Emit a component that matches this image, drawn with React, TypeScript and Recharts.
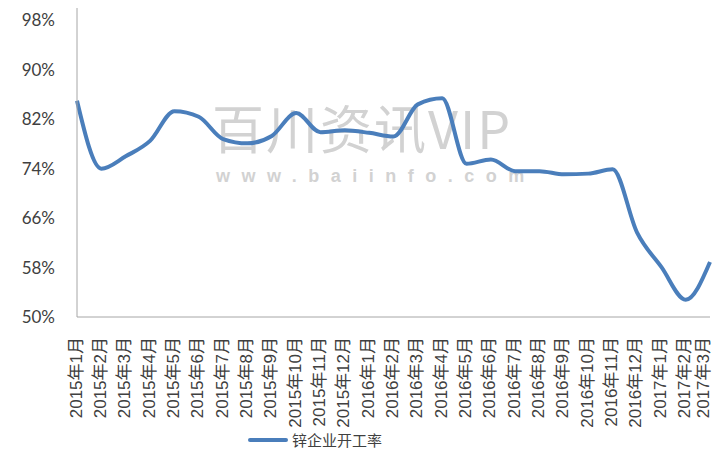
import { LineChart, Line, XAxis, YAxis, Legend } from 'recharts';

const months = [
  '2015年1月', '2015年2月', '2015年3月', '2015年4月', '2015年5月', '2015年6月',
  '2015年7月', '2015年8月', '2015年9月', '2015年10月', '2015年11月', '2015年12月',
  '2016年1月', '2016年2月', '2016年3月', '2016年4月', '2016年5月', '2016年6月',
  '2016年7月', '2016年8月', '2016年9月', '2016年10月', '2016年11月', '2016年12月',
  '2017年1月', '2017年2月', '2017年3月',
];
const rate = [
  85.0, 74.0, 76.0, 78.5, 83.3, 82.4, 78.8, 78.1, 79.3, 83.0, 79.9, 80.2,
  79.8, 79.2, 84.4, 85.4, 74.8, 75.5, 73.6, 73.6, 73.1, 73.2, 73.9, 63.7,
  58.1, 52.8, 58.9,
];
const yTicks = [50, 58, 66, 74, 82, 90, 98];
const seriesName = '锌企业开工率';

const data = months.map((m, i) => ({ month: m, rate: rate[i] }));

const cjk = '"Liberation Sans", "Noto Sans CJK SC", sans-serif';

function MonthTick({ x, y, payload }: any) {
  // keep the last label inside the picture, as in the reference
  const cx = Math.min(x - 1, 703);
  return (
    <text
      transform={`translate(${cx},${y + 12}) rotate(-90)`}
      textAnchor="end"
      dominantBaseline="central"
      fontSize={17}
      fill="#404040"
      fontFamily={cjk}
    >
      {payload.value}
    </text>
  );
}

function LegendBox() {
  return (
    <div style={{ display: 'flex', alignItems: 'center', marginLeft: 248, fontFamily: cjk, fontSize: 15, color: '#404040' }}>
      <span style={{ display: 'inline-block', width: 40, height: 4, borderRadius: 2, background: '#4a7ebb', marginRight: 4 }} />
      {seriesName}
    </div>
  );
}

export default function App() {
  return (
    <div style={{ position: 'absolute', left: 0, top: 0, width: 713, height: 452, background: '#fff' }}>
      <div style={{ position: 'absolute', left: 212, top: 96, width: 360, height: 62, color: '#d2d2d2', fontFamily: '"Noto Sans CJK SC", sans-serif', fontSize: 52, lineHeight: '62px', letterSpacing: 2, pointerEvents: 'none' }}>
        百川资讯VIP
      </div>
      <div style={{ position: 'absolute', left: 216, top: 165, width: 360, height: 22, color: '#d2d2d2', fontFamily: '"Liberation Sans", sans-serif', fontSize: 18, lineHeight: '22px', letterSpacing: 11.5, fontWeight: 700, pointerEvents: 'none' }}>
        www.baiinfo.com
      </div>
      <div style={{ position: 'relative' }}>
        <LineChart width={713} height={452} data={data} margin={{ top: 8, right: 3, bottom: 0, left: 0 }}>
          <XAxis
            dataKey="month"
            interval={0}
            tick={<MonthTick />}
            tickLine={false}
            axisLine={{ stroke: '#a6a6a6' }}
            height={112}
          />
          <YAxis
            domain={[50, 100]}
            ticks={yTicks}
            width={77}
            tickLine={false}
            tickSize={0}
            tickMargin={22}
            axisLine={{ stroke: '#a6a6a6' }}
            tickFormatter={(v: number) => `${v}%`}
            tick={{ fontSize: 17, fill: '#404040', fontFamily: 'Lato, sans-serif' }}
          />
          <Legend verticalAlign="bottom" height={23} wrapperStyle={{ left: 0, width: 713 }} content={<LegendBox />} />
          <Line
            type="monotone"
            dataKey="rate"
            name={seriesName}
            stroke="#4a7ebb"
            strokeWidth={4}
            dot={false}
            isAnimationActive={false}
          />
        </LineChart>
      </div>
    </div>
  );
}
